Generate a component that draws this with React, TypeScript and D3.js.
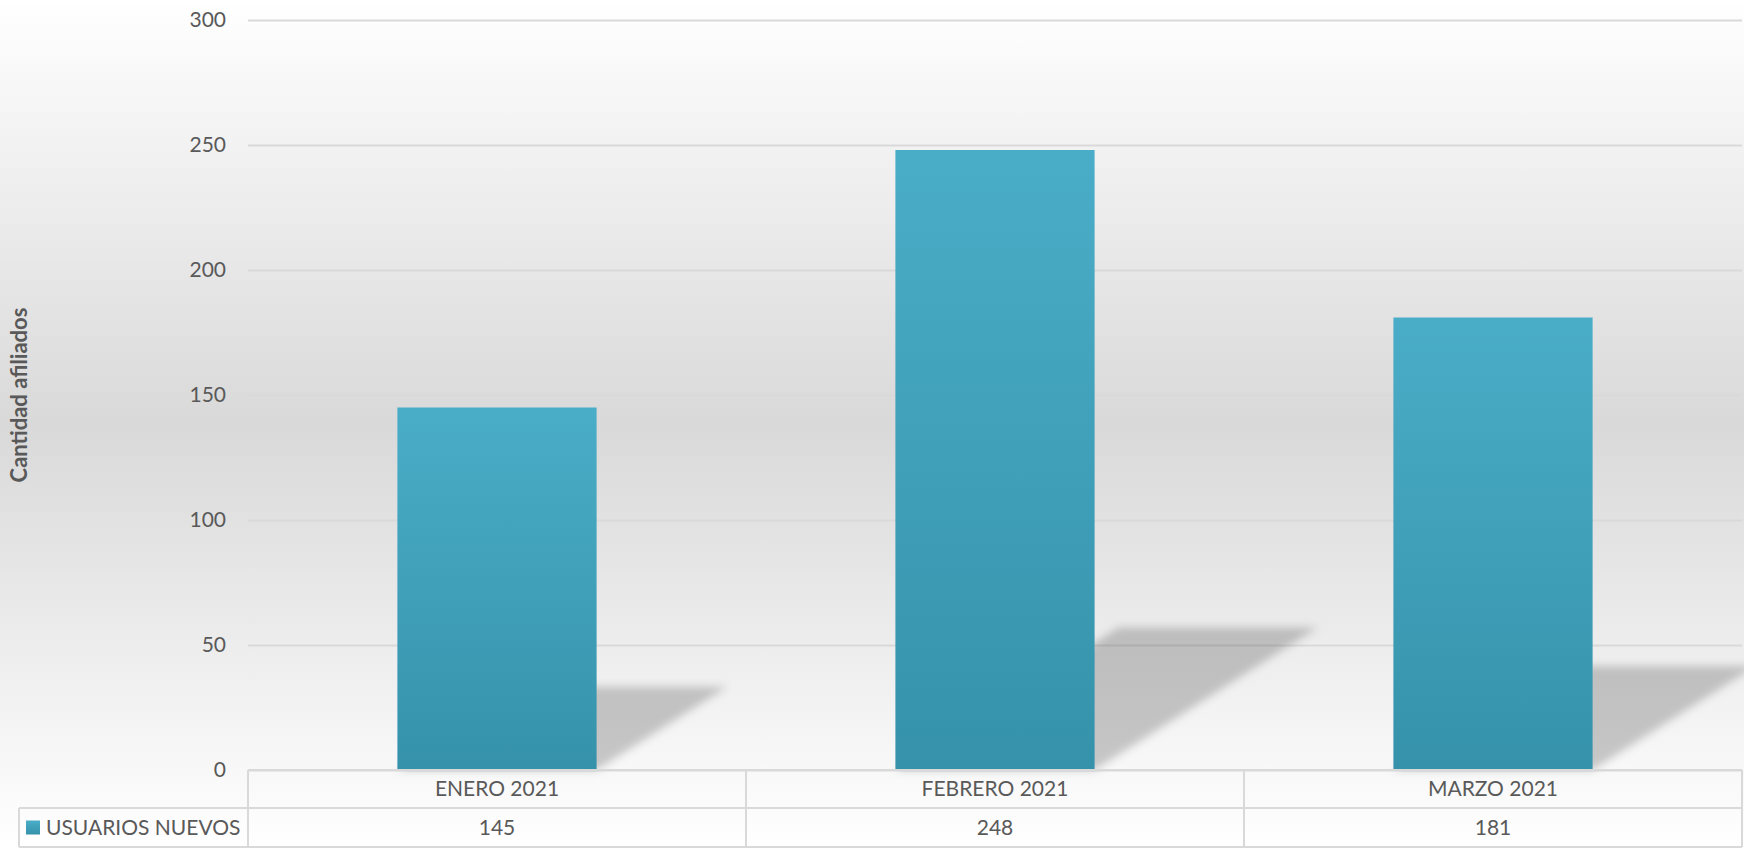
import React, { useEffect, useRef } from "react";
import * as d3 from "d3";

const months = ["ENERO 2021", "FEBRERO 2021", "MARZO 2021"];
const newUsers = [145, 248, 181];
const yTicks = [0, 50, 100, 150, 200, 250, 300];
const seriesName = "USUARIOS NUEVOS";
const yTitle = "Cantidad afiliados";

const FONT = "Lato, 'Open Sans', sans-serif";
const TEXT = "#595959";
const GRID = "#d9d9d9";
const FS = 21;

const App: React.FC = () => {
  const svgRef = useRef<SVGSVGElement | null>(null);

  useEffect(() => {
    document.body.style.margin = "0";
    if (!svgRef.current) return;
    const svg = d3.select(svgRef.current);
    svg.selectAll("*").remove();

    const width = 1744;
    const height = 848;
    const margin = { top: 20, right: 2, bottom: 78, left: 248 };
    const rowH = 38;
    const legendLeft = 19;

    const defs = svg.append("defs");

    const bg = defs
      .append("linearGradient")
      .attr("id", "bg")
      .attr("x1", 0)
      .attr("y1", 0)
      .attr("x2", 0)
      .attr("y2", 1);
    bg.append("stop").attr("offset", "0%").attr("stop-color", "#ffffff");
    bg.append("stop").attr("offset", "50%").attr("stop-color", "#d9d9d9");
    bg.append("stop").attr("offset", "100%").attr("stop-color", "#ffffff");

    const barGrad = defs
      .append("linearGradient")
      .attr("id", "bar")
      .attr("x1", 0)
      .attr("y1", 0)
      .attr("x2", 0)
      .attr("y2", 1);
    barGrad.append("stop").attr("offset", "0%").attr("stop-color", "#4aadc7");
    barGrad.append("stop").attr("offset", "100%").attr("stop-color", "#3692ab");

    defs
      .append("filter")
      .attr("id", "blur")
      .attr("x", "-20%")
      .attr("y", "-20%")
      .attr("width", "140%")
      .attr("height", "140%")
      .append("feGaussianBlur")
      .attr("stdDeviation", 4);

    svg
      .append("rect")
      .attr("width", width)
      .attr("height", height)
      .attr("fill", "url(#bg)");

    const x = d3
      .scaleBand<string>()
      .domain(months)
      .range([margin.left, width - margin.right])
      .paddingInner(0.6)
      .paddingOuter(0.3);

    const y = d3
      .scaleLinear()
      .domain([0, 300])
      .range([height - margin.bottom, margin.top]);

    // gridlines + tick labels
    const yAxis = d3
      .axisLeft(y)
      .tickValues(yTicks)
      .tickSize(-(width - margin.right - margin.left))
      .tickPadding(22);

    const gy = svg
      .append("g")
      .attr("transform", `translate(${margin.left},0)`)
      .call(yAxis);
    gy.select(".domain").remove();
    gy.selectAll(".tick line").attr("stroke", GRID).attr("stroke-width", 2);
    gy.selectAll(".tick text")
      .attr("fill", TEXT)
      .attr("font-family", FONT)
      .attr("font-size", FS);

    // shadows cast to the right of each bar
    const base = y(0);
    svg
      .append("g")
      .selectAll("path")
      .data(newUsers)
      .enter()
      .append("path")
      .attr("d", (d, i) => {
        const h = base - y(d);
        const sh = h * 0.23;
        const dx = h * 0.36;
        const x0 = x(months[i])!;
        const x1 = x0 + x.bandwidth();
        return `M${x0},${base}L${x1},${base}L${x1 + dx},${base - sh}L${x0 + dx},${base - sh}Z`;
      })
      .attr("fill", "#000")
      .attr("fill-opacity", 0.2)
      .attr("filter", "url(#blur)");

    // bars
    svg
      .append("g")
      .selectAll("rect")
      .data(newUsers)
      .enter()
      .append("rect")
      .attr("x", (_, i) => x(months[i])!)
      .attr("y", (d) => y(d))
      .attr("width", x.bandwidth())
      .attr("height", (d) => base - y(d))
      .attr("fill", "url(#bar)");

    // data table
    const table = svg.append("g");
    const step = x.step();
    const colX = months.map((_, i) => margin.left + i * step);
    const right = width - margin.right;
    const r1 = base;
    const r2 = base + rowH;
    const r3 = base + rowH * 2 + 1;

    const lines: [number, number, number, number][] = [
      [margin.left, r1, right, r1],
      [legendLeft, r2, right, r2],
      [legendLeft, r3, right, r3],
      [legendLeft, r2, legendLeft, r3],
      [right, r1, right, r3],
      ...colX.map((c) => [c, r1, c, r3] as [number, number, number, number]),
    ];
    table
      .selectAll("line")
      .data(lines)
      .enter()
      .append("line")
      .attr("x1", (d) => d[0])
      .attr("y1", (d) => d[1])
      .attr("x2", (d) => d[2])
      .attr("y2", (d) => d[3])
      .attr("stroke", GRID)
      .attr("stroke-width", 2);

    table
      .selectAll("text.cat")
      .data(months)
      .enter()
      .append("text")
      .attr("class", "cat")
      .attr("x", (d) => x(d)! + x.bandwidth() / 2)
      .attr("y", (r1 + r2) / 2)
      .attr("dy", "0.35em")
      .attr("text-anchor", "middle")
      .attr("fill", TEXT)
      .attr("font-family", FONT)
      .attr("font-size", FS)
      .text((d) => d);

    table
      .selectAll("text.val")
      .data(newUsers)
      .enter()
      .append("text")
      .attr("class", "val")
      .attr("x", (_, i) => x(months[i])! + x.bandwidth() / 2)
      .attr("y", (r2 + r3) / 2)
      .attr("dy", "0.35em")
      .attr("text-anchor", "middle")
      .attr("fill", TEXT)
      .attr("font-family", FONT)
      .attr("font-size", FS)
      .text((d) => d);

    // legend key
    table
      .append("rect")
      .attr("x", legendLeft + 7)
      .attr("y", (r2 + r3) / 2 - 7)
      .attr("width", 14)
      .attr("height", 14)
      .attr("fill", "url(#bar)");
    table
      .append("text")
      .attr("x", legendLeft + 27)
      .attr("y", (r2 + r3) / 2)
      .attr("dy", "0.35em")
      .attr("fill", TEXT)
      .attr("font-family", FONT)
      .attr("font-size", FS)
      .text(seriesName);

    // y axis title
    svg
      .append("text")
      .attr("transform", `translate(27,${(margin.top + base) / 2}) rotate(-90)`)
      .attr("text-anchor", "middle")
      .attr("fill", TEXT)
      .attr("font-family", FONT)
      .attr("font-weight", "bold")
      .attr("font-size", 22)
      .text(yTitle);
  }, []);

  return <svg ref={svgRef} width={1744} height={848} style={{ display: "block" }}></svg>;
};

export default App;
